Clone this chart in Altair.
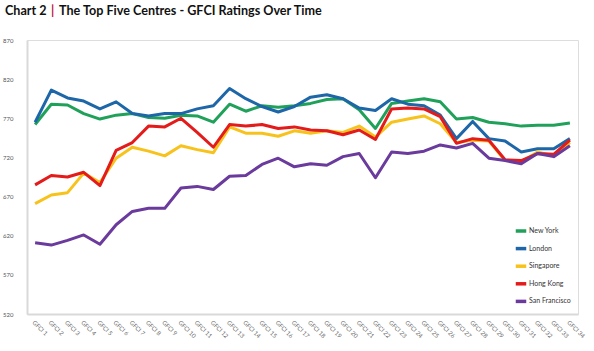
import altair as alt
import pandas as pd

rounds = [f"GFCI {i}" for i in range(1, 35)]
new_york = [762, 788, 787, 776, 769, 774, 776, 771, 770, 774, 773, 765, 788, 779, 786, 784, 786,
            789, 794, 795, 781, 757, 789, 792, 795, 791, 769, 771, 765, 763, 760, 761, 761, 764]
london = [765, 806, 796, 792, 782, 791, 776, 773, 776, 776, 782, 786, 808, 795, 785, 778, 785,
          797, 800, 795, 783, 780, 795, 788, 786, 774, 744, 766, 744, 741, 727, 731, 731, 744]
singapore = [661, 672, 675, 700, 688, 719, 733, 728, 722, 735, 730, 726, 759, 751, 751, 747, 754,
             751, 754, 752, 760, 746, 765, 769, 773, 763, 739, 742, 741, 716, 714, 727, 722, 739]
hong_kong = [685, 697, 695, 701, 684, 729, 739, 760, 759, 770, 752, 733, 762, 760, 762, 757, 759,
             755, 754, 749, 755, 743, 782, 783, 782, 772, 738, 744, 742, 717, 716, 725, 724, 742]
san_francisco = [611, 608, 614, 621, 609, 634, 651, 655, 655, 681, 683, 679, 696, 697, 711, 719, 708,
                 712, 710, 721, 725, 694, 727, 725, 728, 736, 732, 738, 719, 716, 712, 725, 721, 735]

centres = ["New York", "London", "Singapore", "Hong Kong", "San Francisco"]
colors = ["#1fa15a", "#1d66a8", "#f8c21c", "#e31b1b", "#6a3a9c"]
series = [new_york, london, singapore, hong_kong, san_francisco]
y_ticks = [520, 570, 620, 670, 720, 770, 820, 870]

rows = []
for ci, (name, vals) in enumerate(zip(centres, series)):
    for r, v in zip(rounds, vals):
        rows.append({"round": r, "centre": name, "rating": v, "order": ci})
df = pd.DataFrame(rows)

FONT = "Lato"

lines = alt.Chart(df).mark_line(strokeWidth=3, strokeJoin="round").encode(
    x=alt.X("round:O", sort=rounds,
            scale=alt.Scale(paddingOuter=0.5),
            axis=alt.Axis(title=None, labelAngle=45, labelAlign="left", labelBaseline="top",
                          labelFontSize=6, labelColor="#666666", labelPadding=5,
                          ticks=False, domainColor="#d9d9d9", domainWidth=2, labelFont=FONT)),
    y=alt.Y("rating:Q", scale=alt.Scale(domain=[520, 870], nice=False, zero=False),
            axis=alt.Axis(title=None, values=y_ticks, grid=False, ticks=False,
                          labelFontSize=6, labelColor="#555555", labelPadding=14,
                          domainColor="#d9d9d9", domainWidth=2, labelFont=FONT)),
    color=alt.Color("centre:N", sort=centres,
                    scale=alt.Scale(domain=centres, range=colors),
                    legend=alt.Legend(title=None, orient="none", legendX=487, legendY=184,
                                      symbolType="stroke", symbolSize=110, symbolStrokeWidth=3.5,
                                      labelFontSize=7, labelColor="#333333", labelFont=FONT,
                                      rowPadding=3.6, labelOffset=1)),
    detail="centre:N",
    order="order:Q",
)

TS = 12.6
t1 = alt.Chart(pd.DataFrame({"t": ["Chart 2"]})).mark_text(
    align="left", baseline="alphabetic", font=FONT, fontWeight="bold", fontSize=TS, color="#111111"
).encode(text="t:N", x=alt.value(-22), y=alt.value(-25))
t2 = alt.Chart(pd.DataFrame({"t": ["|"]})).mark_text(
    align="left", baseline="alphabetic", font=FONT, fontWeight="bold", fontSize=TS, color="#c0163c"
).encode(text="t:N", x=alt.value(24), y=alt.value(-25))
t3 = alt.Chart(pd.DataFrame({"t": ["The Top Five Centres - GFCI Ratings Over Time"]})).mark_text(
    align="left", baseline="alphabetic", font=FONT, fontWeight="bold", fontSize=TS, color="#111111"
).encode(text="t:N", x=alt.value(32), y=alt.value(-25))

chart = alt.layer(lines, t1, t2, t3).properties(
    width=551, height=274,
    autosize=alt.AutoSizeParams(type="none"),
    padding={"left": 27, "top": 40, "right": 16, "bottom": 37},
).configure_view(stroke=None).configure(background="white")

chart.save("out.html", embed_options={"renderer": "svg", "actions": False})
